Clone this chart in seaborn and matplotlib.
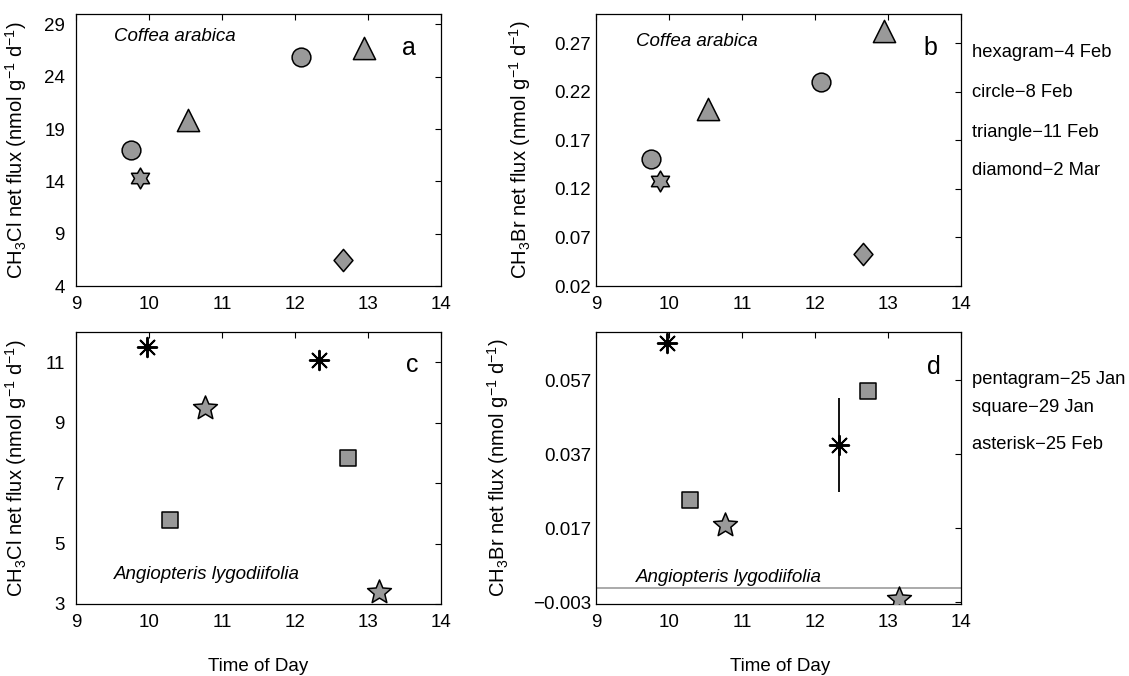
import numpy as np
import pandas as pd
import matplotlib
matplotlib.use("Agg")
import matplotlib.pyplot as plt
from matplotlib.path import Path
import seaborn as sns

# ---------------- data ----------------
coffea_group = ["hexagram", "circle", "circle", "triangle", "triangle", "diamond"]
coffea_time = [9.87, 9.75, 12.08, 10.53, 12.95, 12.66]
coffea_ch3cl = [14.35, 17.0, 25.9, 19.85, 26.75, 6.5]
coffea_ch3br = [0.128, 0.151, 0.230, 0.202, 0.283, 0.0525]

angio_group = ["asterisk", "asterisk", "pentagram", "pentagram", "square", "square"]
angio_time = [9.97, 12.33, 10.77, 13.15, 10.29, 12.73]
angio_ch3cl = [11.49, 11.07, 9.47, 3.41, 5.78, 7.84]
angio_ch3br = [0.067, 0.0395, 0.0179, -0.0021, 0.0247, 0.054]
angio_ch3br_err = [0.0, 0.0128, 0.0, 0.0, 0.0, 0.0]
angio_ref_line = 0.0008

coffea_legend = ["hexagram\u22124 Feb", "circle\u22128 Feb", "triangle\u221211 Feb", "diamond\u22122 Mar"]
angio_legend = ["pentagram\u221225 Jan", "square\u221229 Jan", "asterisk\u221225 Feb"]

xticks = [9, 10, 11, 12, 13, 14]
yticks_a = [4, 9, 14, 19, 24, 29]
yticks_b = [0.02, 0.07, 0.12, 0.17, 0.22, 0.27]
yticks_c = [3, 5, 7, 9, 11]
yticks_d = [-0.003, 0.017, 0.037, 0.057]

# ---------------- style ----------------
sns.set_style("white")
plt.rcParams["font.family"] = ["Liberation Sans", "DejaVu Sans"]
plt.rcParams["mathtext.fontset"] = "custom"
plt.rcParams["mathtext.rm"] = "Liberation Sans"
plt.rcParams["mathtext.it"] = "Liberation Sans:italic"
plt.rcParams["axes.unicode_minus"] = True
plt.rcParams["text.color"] = "black"
plt.rcParams["axes.labelcolor"] = "black"

hexagram = Path.unit_regular_star(6, 0.577)
pentagram = Path.unit_regular_star(5, 0.45)
diamond = Path([(0, 1), (0.85, 0), (0, -1), (-0.85, 0), (0, 1)],
               [Path.MOVETO, Path.LINETO, Path.LINETO, Path.LINETO, Path.CLOSEPOLY])

marker_map = {"hexagram": hexagram, "circle": "o", "triangle": "^", "diamond": diamond,
              "asterisk": (8, 2, 0), "pentagram": pentagram, "square": "s"}
size_map = {"hexagram": 15, "circle": 13.5, "triangle": 16, "diamond": 16,
            "asterisk": 14, "pentagram": 18, "square": 11.5}
FILL = "#999999"

fig = plt.figure(figsize=(11.29, 6.76), dpi=100)
W, H = 1129, 676


def make_ax(left, top, width=365, height=272):
    return fig.add_axes([left / W, 1 - (top + height) / H, width / W, height / H])


ax_a = make_ax(76, 14)
ax_b = make_ax(596, 14)
ax_c = make_ax(76, 332)
ax_d = make_ax(596, 332)


def draw(ax, times, vals, groups):
    df = pd.DataFrame({"time": times, "flux": vals, "group": groups})
    for g in dict.fromkeys(groups):
        sub = df[df["group"] == g]
        if g == "asterisk":
            sns.scatterplot(data=sub, x="time", y="flux", marker=marker_map[g],
                            s=size_map[g] ** 2, color="black", linewidth=1.4,
                            legend=False, ax=ax, zorder=3)
        else:
            sns.scatterplot(data=sub, x="time", y="flux", marker=marker_map[g],
                            s=size_map[g] ** 2, color=FILL, edgecolor="black",
                            linewidth=1.1, legend=False, ax=ax, zorder=3)


def style(ax, yticks, ylim, ylabel, ylab_x, ypad, fmt):
    ax.set_xlim(9, 14)
    ax.set_ylim(*ylim)
    ax.set_xticks(xticks)
    ax.set_xticklabels([str(t) for t in xticks])
    ax.set_yticks(yticks)
    ax.set_yticklabels([fmt(t).replace("-", "\u2212") for t in yticks])
    ax.tick_params(direction="in", top=True, right=True, length=4, width=0.8,
                   labelsize=13.5, colors="black")
    ax.tick_params(axis="x", pad=7)
    ax.tick_params(axis="y", pad=ypad)
    for sp in ax.spines.values():
        sp.set_color("black")
        sp.set_linewidth(0.9)
        sp.set_visible(True)
    ax.set_ylabel(ylabel, fontsize=14.5)
    ax.yaxis.set_label_coords(ylab_x, 0.5)
    ax.set_xlabel("")


draw(ax_a, coffea_time, coffea_ch3cl, coffea_group)
draw(ax_b, coffea_time, coffea_ch3br, coffea_group)
draw(ax_c, angio_time, angio_ch3cl, angio_group)
draw(ax_d, angio_time, angio_ch3br, angio_group)

# error bar and reference line in d
err_df = pd.DataFrame({"time": angio_time, "flux": angio_ch3br, "err": angio_ch3br_err})
err_df = err_df[err_df["err"] > 0]
ax_d.errorbar(err_df["time"], err_df["flux"], yerr=err_df["err"], fmt="none",
              ecolor="black", elinewidth=1.3, capsize=0, zorder=2)
ax_d.axhline(angio_ref_line, color="#aaaaaa", linewidth=1.4, zorder=1)

cl_label = r"CH$_3$Cl net flux (nmol g$^{-1}$ d$^{-1}$)"
br_label = r"CH$_3$Br net flux (nmol g$^{-1}$ d$^{-1}$)"
style(ax_a, yticks_a, (4, 30), cl_label, -0.13, 8, lambda v: f"{v:g}")
style(ax_b, yticks_b, (0.02, 0.30), br_label, -0.172, 3.5, lambda v: f"{v:.2f}")
style(ax_c, yticks_c, (3, 12), cl_label, -0.13, 8, lambda v: f"{v:g}")
style(ax_d, yticks_d, (-0.0035, 0.07), br_label, -0.232, 3.5, lambda v: f"{v:.3f}")

for ax in (ax_c, ax_d):
    ax.set_xlabel("Time of Day", fontsize=13.5)
ax_c.xaxis.set_label_coords(0.5, -0.198)
ax_d.xaxis.set_label_coords(0.504, -0.198)

# species names
ax_a.text(0.104, 0.919, "Coffea arabica", style="italic", fontsize=13.5,
          transform=ax_a.transAxes, ha="left", va="center")
ax_b.text(0.110, 0.900, "Coffea arabica", style="italic", fontsize=13.5,
          transform=ax_b.transAxes, ha="left", va="center")
ax_c.text(0.104, 0.110, "Angiopteris lygodiifolia", style="italic", fontsize=13.5,
          transform=ax_c.transAxes, ha="left", va="center")
ax_d.text(0.110, 0.099, "Angiopteris lygodiifolia", style="italic", fontsize=13.5,
          transform=ax_d.transAxes, ha="left", va="center")

# panel letters
for ax, letter, (px, py) in [(ax_a, "a", (0.912, 0.875)), (ax_b, "b", (0.915, 0.875)),
                             (ax_c, "c", (0.92, 0.879)), (ax_d, "d", (0.926, 0.871))]:
    ax.text(px, py, letter, fontsize=18, transform=ax.transAxes, ha="center", va="center")

# marker legends
for lbl, y in zip(coffea_legend, [0.857, 0.713, 0.566, 0.423]):
    ax_b.text(1.031, y, lbl, fontsize=13.2, transform=ax_b.transAxes, ha="left", va="center")
for lbl, y in zip(angio_legend, [0.824, 0.724, 0.588]):
    ax_d.text(1.031, y, lbl, fontsize=13.2, transform=ax_d.transAxes, ha="left", va="center")

fig.savefig("out.png", dpi=100)
